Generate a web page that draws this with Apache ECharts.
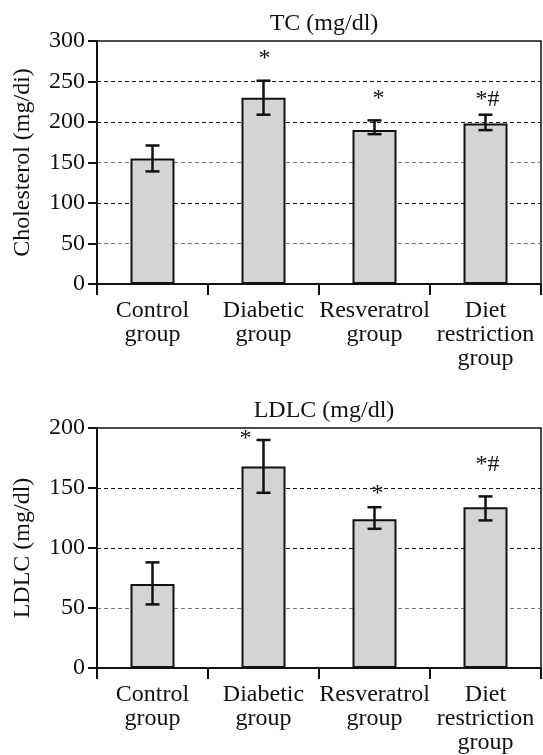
<!DOCTYPE html>
<html><head><meta charset="utf-8">
<script src="https://cdn.jsdelivr.net/npm/echarts@6/dist/echarts.min.js"></script>
<style>html,body{margin:0;padding:0;background:#fff}#c{width:543px;height:755px}</style>
</head><body><div id="c"></div>
<script>
// ---- data ----
const categories = ['Control\ngroup', 'Diabetic\ngroup', 'Resveratrol\ngroup', 'Diet\nrestriction\ngroup'];
const tcTitle = 'TC (mg/dl)';
const tcAxisName = 'Cholesterol (mg/di)';
const tcMeans = [155, 230, 190, 198];
const tcLower = [139, 209, 185, 190];
const tcUpper = [171, 251, 202, 209];
const tcMarks = ['', '*', '*', '*#'];
const tcMarkValues = [null, 278, 229, 228];
const tcTicks = [0, 50, 100, 150, 200, 250, 300];

const ldlTitle = 'LDLC (mg/dl)';
const ldlAxisName = 'LDLC (mg/dl)';
const ldlMeans = [70, 168, 124, 134];
const ldlLower = [53, 146, 116, 123];
const ldlUpper = [88, 190, 134, 143];
const ldlMarks = ['', '*', '*', '*#'];
const ldlMarkValues = [null, 191, 145, 169];
const ldlTicks = [0, 50, 100, 150, 200];

// ---- styles ----
const FONT = 'Liberation Serif';
const BLACK = '#111';
const ldlMarkDx = [0, -18, 3, 2];
const tcMarkDx = [0, 1, 4, 2];

function xAxisOpt(gi) {
  return {
    type: 'category', gridIndex: gi, data: categories,
    axisLine: { lineStyle: { color: BLACK, width: 2 } },
    axisTick: { show: true, length: 11, lineStyle: { color: BLACK, width: 2 } },
    axisLabel: { color: BLACK, fontFamily: FONT, fontSize: 24, lineHeight: 24, margin: 15, interval: 0 },
    splitLine: { show: false }
  };
}
function yAxisOpt(gi, ticks, name, colors) {
  return {
    type: 'value', gridIndex: gi, min: ticks[0], max: ticks[ticks.length - 1],
    interval: ticks[1] - ticks[0],
    name: name, nameLocation: 'middle', nameGap: 62,
    nameTextStyle: { color: BLACK, fontFamily: FONT, fontSize: 24 },
    axisLine: { show: true, lineStyle: { color: BLACK, width: 2 } },
    axisTick: { show: true, length: 9, lineStyle: { color: BLACK, width: 2 } },
    axisLabel: { color: BLACK, fontFamily: FONT, fontSize: 24, margin: 12 },
    splitLine: { show: true, lineStyle: { type: [4, 3], color: colors, width: 1.2 } }
  };
}
function barSeries(gi, means) {
  return {
    type: 'bar', xAxisIndex: gi, yAxisIndex: gi, data: means, barWidth: 44,
    itemStyle: { color: '#d4d4d4', borderColor: BLACK, borderWidth: 2 },
    z: 3, silent: true
  };
}
function errSeries(gi, lower, upper) {
  return {
    type: 'custom', xAxisIndex: gi, yAxisIndex: gi, z: 5, silent: true,
    data: lower.map((l, i) => [i, l, upper[i]]),
    renderItem: function (params, api) {
      const lo = api.coord([api.value(0), api.value(1)]);
      const hi = api.coord([api.value(0), api.value(2)]);
      const w = 7;
      const st = { stroke: BLACK, lineWidth: 2.5 };
      return { type: 'group', children: [
        { type: 'line', shape: { x1: lo[0], y1: lo[1], x2: hi[0], y2: hi[1] }, style: st },
        { type: 'line', shape: { x1: lo[0] - w, y1: lo[1], x2: lo[0] + w, y2: lo[1] }, style: st },
        { type: 'line', shape: { x1: hi[0] - w, y1: hi[1], x2: hi[0] + w, y2: hi[1] }, style: st }
      ]};
    }
  };
}
function markSeries(gi, marks, vals, dx) {
  const data = [];
  marks.forEach((m, i) => { if (m) data.push([i, vals[i]]); });
  return {
    type: 'custom', xAxisIndex: gi, yAxisIndex: gi, z: 6, silent: true,
    data: data,
    renderItem: function (params, api) {
      const i = api.value(0);
      const p = api.coord([i, api.value(1)]);
      return { type: 'text', x: p[0] + dx[i], y: p[1],
        style: { text: marks[i], fill: BLACK, font: '24px "' + FONT + '"', align: 'center', verticalAlign: 'middle' } };
    }
  };
}

const chart = echarts.init(document.getElementById('c'));
chart.setOption({
  animation: false,
  backgroundColor: '#fff',
  title: [
    { text: tcTitle, left: 319, top: 7, textAlign: 'center', textStyle: { color: BLACK, fontFamily: FONT, fontSize: 24, fontWeight: 'normal' } },
    { text: ldlTitle, left: 319, top: 394, textAlign: 'center', textStyle: { color: BLACK, fontFamily: FONT, fontSize: 24, fontWeight: 'normal' } }
  ],
  grid: [
    { left: 97, right: 2, top: 41, height: 243, show: true, borderColor: BLACK, borderWidth: 1.5, containLabel: false },
    { left: 97, right: 2, top: 428, height: 242, show: true, borderColor: BLACK, borderWidth: 1.5, containLabel: false }
  ],
  xAxis: [xAxisOpt(0), xAxisOpt(1)],
  yAxis: [
    yAxisOpt(0, tcTicks, tcAxisName, ['transparent', '#777', '#111', '#777', '#111', '#111', 'transparent']),
    yAxisOpt(1, ldlTicks, ldlAxisName, ['transparent', '#777', '#111', '#111', 'transparent'])
  ],
  series: [
    barSeries(0, tcMeans), errSeries(0, tcLower, tcUpper), markSeries(0, tcMarks, tcMarkValues, tcMarkDx),
    barSeries(1, ldlMeans), errSeries(1, ldlLower, ldlUpper), markSeries(1, ldlMarks, ldlMarkValues, ldlMarkDx)
  ]
});
</script></body></html>
